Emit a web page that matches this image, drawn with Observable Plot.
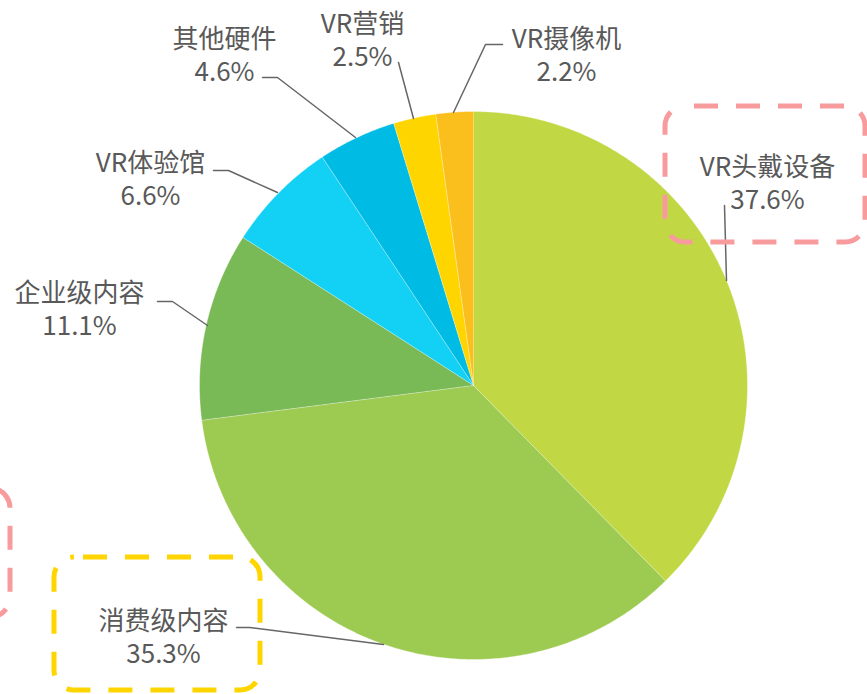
<!DOCTYPE html>
<html><head><meta charset="utf-8">
<script src="https://cdn.jsdelivr.net/npm/d3@7"></script>
<script src="https://cdn.jsdelivr.net/npm/@observablehq/plot@0.6"></script>
<style>
html,body{margin:0;padding:0;background:#fff;}
#chart{width:867px;height:694px;overflow:hidden;}
</style>
</head><body><div id="chart"></div>
<script>
// Data
const labels = ["VR头戴设备","消费级内容","企业级内容","VR体验馆","其他硬件","VR营销","VR摄像机"];
const values = [37.6, 35.3, 11.1, 6.6, 4.6, 2.5, 2.2];
const colors = ["#c1d844","#9dca50","#79b956","#13d0f5","#00bce5","#ffd500","#fbbf1d"];

// Layout
const W = 867, H = 694;
const cx = 473, cy = 385, R = 274;
const labelPos = [[767,184],[163,638],[79,310],[150,180],[224,56],[362,41],[566,56]];
const leaders = [
  [[724,205],[726,280]],
  [[236,627],[249,627],[383,644]],
  [[157,301],[172,301],[207,325]],
  [[213,170],[228,170],[277,192]],
  [[262,77],[277,77],[355,137]],
  [[398,62],[413,118]],
  [[502,44],[485,44],[453,112]]
];
const boxes = [
  {x1:665, y1:106, x2:865, y2:242, c:"#f79b9d"},
  {x1:54, y1:557, x2:260, y2:690, c:"#ffd500"},
  {x1:-200, y1:488, x2:10, y2:617, c:"#f79b9d"}
];

// Build slice polygons
const total = d3.sum(values);
const slicePts = [];
let acc = 0;
values.forEach((v, i) => {
  const a0 = acc / total * 2 * Math.PI;
  acc += v;
  const a1 = acc / total * 2 * Math.PI;
  slicePts.push({label: labels[i], x: cx, y: cy});
  const n = Math.max(2, Math.ceil((a1 - a0) / (Math.PI / 360)));
  for (let k = 0; k <= n; k++) {
    const a = a0 + (a1 - a0) * k / n;
    slicePts.push({label: labels[i], x: cx + R * Math.sin(a), y: cy - R * Math.cos(a)});
  }
});
const leaderPts = leaders.flatMap((pts, i) => pts.map(([x, y]) => ({id: i, x, y})));
const lineGap = 16.5;
const nameData = labels.map((l, i) => ({text: l, x: labelPos[i][0], y: labelPos[i][1] - lineGap}));
const pctData = labels.map((l, i) => ({text: values[i].toFixed(1) + "%", x: labelPos[i][0], y: labelPos[i][1] + lineGap}));
const textOpts = {x: "x", y: "y", text: "text", fontSize: 26, fill: "#595959",
  fontFamily: "'Noto Sans CJK SC', 'Noto Sans', sans-serif", textAnchor: "middle"};

const chart = Plot.plot({
  width: W, height: H, margin: 0,
  style: {background: "#fff", overflow: "hidden"},
  x: {domain: [0, W], range: [0, W], axis: null},
  y: {domain: [0, H], range: [0, H], axis: null},
  color: {domain: labels, range: colors},
  marks: [
    Plot.line(slicePts, {x: "x", y: "y", z: "label", fill: "label", stroke: "#ffffff", strokeWidth: 0.6, strokeOpacity: 0.6}),
    Plot.line(leaderPts, {x: "x", y: "y", z: "id", stroke: "#666666", strokeWidth: 1.5}),
    Plot.text(nameData, textOpts),
    Plot.text(pctData, textOpts),
    ...boxes.map(b => Plot.rect([b], {x1: "x1", x2: "x2", y1: "y1", y2: "y2", rx: 20, fill: "none",
      stroke: b.c, strokeWidth: 5, strokeDasharray: "24,18", strokeDashoffset: 33}))
  ]
});
document.getElementById("chart").appendChild(chart);
</script>
</body></html>
